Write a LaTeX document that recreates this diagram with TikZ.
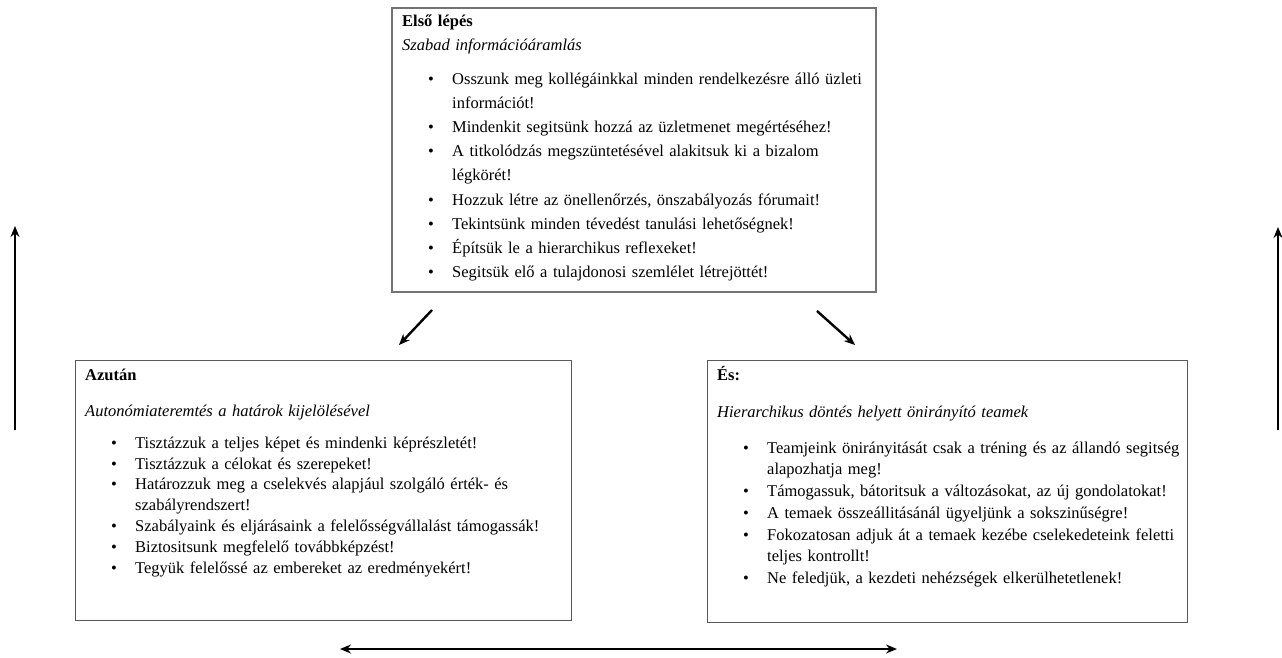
\documentclass[tikz,border=0pt]{standalone}
\usepackage{fontspec}
\setmainfont{Liberation Serif}
\usetikzlibrary{arrows.meta}
\newcommand\bitem[1]{\par\noindent\hangindent=50pt\hangafter=1\hspace*{26pt}\makebox[24pt][l]{\textbullet}#1}
\newcommand\boxhead[4]{\rule{0pt}{12pt}{\bfseries #1}\par\vspace{#3}{\itshape #2}\par\vspace{#4}}
\newcommand\brk{\break}
\tikzset{
  box/.style={draw=black!65, line width=1.4pt, fill=white, inner sep=0pt, anchor=north west},
  txt/.style={inner sep=0pt, anchor=north west, align=left, font=\fontsize{16.5}{#1}\selectfont},
  arr/.style={line width=2.4pt, -{Stealth[length=11pt,width=9pt]}},
  arrb/.style={line width=2.4pt, {Stealth[length=11pt,width=9pt]}-{Stealth[length=11pt,width=9pt]}}
}
\begin{document}
\begin{tikzpicture}[x=1pt,y=-1pt]
\useasboundingbox (0,0) rectangle (1282,657);
% boxes
\node[box, draw=black!55, line width=2pt, minimum width=484pt, minimum height=284pt] (first) at (391,7) {};
\node[box, minimum width=496pt, minimum height=260pt] (then) at (75,360) {};
\node[box, minimum width=480pt, minimum height=262pt] (and) at (707,360) {};
% texts
\node[txt=24.2pt, text width=466pt] (firstt) at ([xshift=11pt,yshift=-7.5pt]first.north west) {%
\boxhead{Első lépés}{Szabad információáramlás}{0pt}{9pt}%
\bitem{Osszunk meg kollégáinkkal minden rendelkezésre álló üzleti\brk információt!}
\bitem{Mindenkit segitsünk hozzá az üzletmenet megértéséhez!}
\bitem{A titkolódzás megszüntetésével alakitsuk ki a bizalom\brk légkörét!}
\bitem{Hozzuk létre az önellenőrzés, önszabályozás fórumait!}
\bitem{Tekintsünk minden tévedést tanulási lehetőségnek!}
\bitem{Építsük le a hierarchikus reflexeket!}
\bitem{Segitsük elő a tulajdonosi szemlélet létrejöttét!}};
\node[txt=20.8pt, text width=480pt] (thent) at ([xshift=10pt,yshift=-8.5pt]then.north west) {%
\boxhead{Azután}{Autonómiateremtés a határok kijelölésével}{15pt}{11pt}%
\bitem{Tisztázzuk a teljes képet és mindenki képrészletét!}
\bitem{Tisztázzuk a célokat és szerepeket!}
\bitem{Határozzuk meg a cselekvés alapjául szolgáló érték- és\brk szabályrendszert!}
\bitem{Szabályaink és eljárásaink a felelősségvállalást támogassák!}
\bitem{Biztositsunk megfelelő továbbképzést!}
\bitem{Tegyük felelőssé az embereket az eredményekért!}};
\node[txt=21.7pt, text width=466pt] (andt) at ([xshift=10pt,yshift=-6.5pt]and.north west) {%
\boxhead{És:}{Hierarchikus döntés helyett önirányító teamek}{15pt}{14pt}%
\bitem{Teamjeink önirányitását csak a tréning és az állandó segitség\brk alapozhatja meg!}
\bitem{Támogassuk, bátoritsuk a változásokat, az új gondolatokat!}
\bitem{A temaek összeállitásánál ügyeljünk a sokszinűségre!}
\bitem{Fokozatosan adjuk át a temaek kezébe cselekedeteink feletti\brk teljes kontrollt!}
\bitem{Ne feledjük, a kezdeti nehézségek elkerülhetetlenek!}};
% arrow end points
\coordinate (d1s) at (432,310);
\coordinate (d1e) at (399,345);
\coordinate (d2s) at (817,311);
\coordinate (d2e) at (855,345);
\coordinate (l1) at (15,430);
\coordinate (l2) at (15,226);
\coordinate (r1) at (1278,430);
\coordinate (r2) at (1278,227);
\coordinate (b1) at (340,649);
\coordinate (b2) at (897,649);
\draw[arr] (d1s) -- (d1e);
\draw[arr] (d2s) -- (d2e);
\draw[arr] (l1) -- (l2);
\draw[arr] (r1) -- (r2);
\draw[arrb] (b1) -- (b2);
\end{tikzpicture}
\end{document}
